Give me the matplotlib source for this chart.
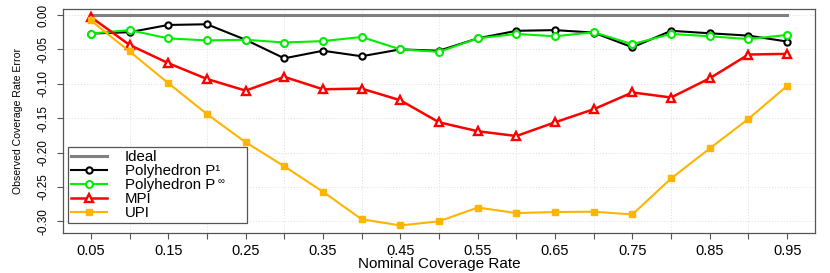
import numpy as np
import matplotlib
matplotlib.use("Agg")
import matplotlib.pyplot as plt

plt.rcParams['font.family'] = ['Liberation Sans', 'DejaVu Sans']

# nominal coverage rates
rates = [0.05, 0.10, 0.15, 0.20, 0.25, 0.30, 0.35, 0.40, 0.45, 0.50,
         0.55, 0.60, 0.65, 0.70, 0.75, 0.80, 0.85, 0.90, 0.95]

ideal = [0.0] * len(rates)
poly_p1 = [-0.027, -0.025, -0.0145, -0.0135, -0.036, -0.063, -0.052, -0.060, -0.050, -0.052,
           -0.034, -0.023, -0.022, -0.0256, -0.047, -0.023, -0.0266, -0.030, -0.0386]
poly_pinf = [-0.027, -0.022, -0.034, -0.037, -0.036, -0.040, -0.038, -0.032, -0.050, -0.0536,
             -0.034, -0.0275, -0.031, -0.025, -0.0425, -0.0275, -0.031, -0.035, -0.029]
mpi = [-0.003, -0.0435, -0.070, -0.093, -0.110, -0.090, -0.108, -0.107, -0.124, -0.156,
       -0.169, -0.176, -0.156, -0.137, -0.1126, -0.120, -0.092, -0.0575, -0.0565]
upi = [-0.008, -0.053, -0.099, -0.144, -0.185, -0.220, -0.257, -0.297, -0.306, -0.300,
       -0.280, -0.288, -0.2865, -0.286, -0.290, -0.2377, -0.194, -0.151, -0.103]

fig = plt.figure(figsize=(8.3, 2.73), dpi=100)
ax = fig.add_axes([0.0759, 0.1465, 0.906, 0.8205])

# faint dotted grid, drawn under the data
for gx in np.arange(0.1, 0.95, 0.1):
    ax.axvline(gx, color='#dcdcdc', ls=(0, (1, 2)), lw=0.7, zorder=0)
for gy in np.arange(-0.30, 0.001, 0.05):
    ax.axhline(gy, color='#dcdcdc', ls=(0, (1, 2)), lw=0.7, zorder=0)

ax.plot(rates, ideal, color='#808080', lw=2.2, label='Ideal')
ax.plot(rates, poly_p1, color='black', lw=1.5, marker='o', ms=4.5, mfc='white',
        mec='black', mew=1.5, label='Polyhedron P\u00b9')
ax.plot(rates, poly_pinf, color='#00ee00', lw=1.5, marker='o', ms=5, mfc='white',
        mec='#00ee00', mew=1.5, label='Polyhedron P')
ax.plot(rates, mpi, color='#ff0000', lw=1.8, marker='^', ms=5.5, mfc='white',
        mec='#ff0000', mew=1.7, label='MPI')
ax.plot(rates, upi, color='#ffb400', lw=1.5, marker='s', ms=4, mfc='#ffb400',
        mec='#ffb400', label='UPI')

ax.set_xlim(0.014, 0.986)
ax.set_ylim(-0.317, 0.0087)

ax.set_xticks(rates)
ax.set_xticklabels([('%.2f' % r) if i % 2 == 0 else '' for i, r in enumerate(rates)],
                   fontsize=10.5)
yt = [-0.30, -0.25, -0.20, -0.15, -0.10, -0.05, 0.00]
ax.set_yticks(yt)
ax.set_yticklabels(['%.2f' % v for v in yt], fontsize=8.5, rotation=90, va='center')
ax.tick_params(axis='both', direction='out', length=4, color='#555555', width=0.8)
ax.tick_params(axis='y', pad=6)
ax.tick_params(axis='x', pad=4)

for s in ax.spines.values():
    s.set_color('#555555')
    s.set_linewidth(0.9)

ax.set_xlabel('Nominal Coverage Rate', fontsize=11, labelpad=-1)
ax.set_ylabel('Observed Coverage Rate Error', fontsize=7.6, labelpad=10)

leg = ax.legend(loc='lower left', bbox_to_anchor=(0.0066, 0.045, 0.238, 0.348),
                mode='expand', borderaxespad=0,
                fontsize=10.8, handlelength=2.4, handletextpad=1.2, labelspacing=0.0,
                fancybox=False, framealpha=1, edgecolor='#555555', borderpad=0.2)
leg.get_frame().set_linewidth(0.9)
leg.set_zorder(5)

# superscript infinity next to the P of the third legend entry
ax.annotate('\u221e', xy=(1.0, 0.45), xycoords=leg.get_texts()[2], xytext=(1.4, 0),
            textcoords='offset points', fontsize=7, ha='left', va='bottom', zorder=6)

fig.savefig('out.png', dpi=100)
